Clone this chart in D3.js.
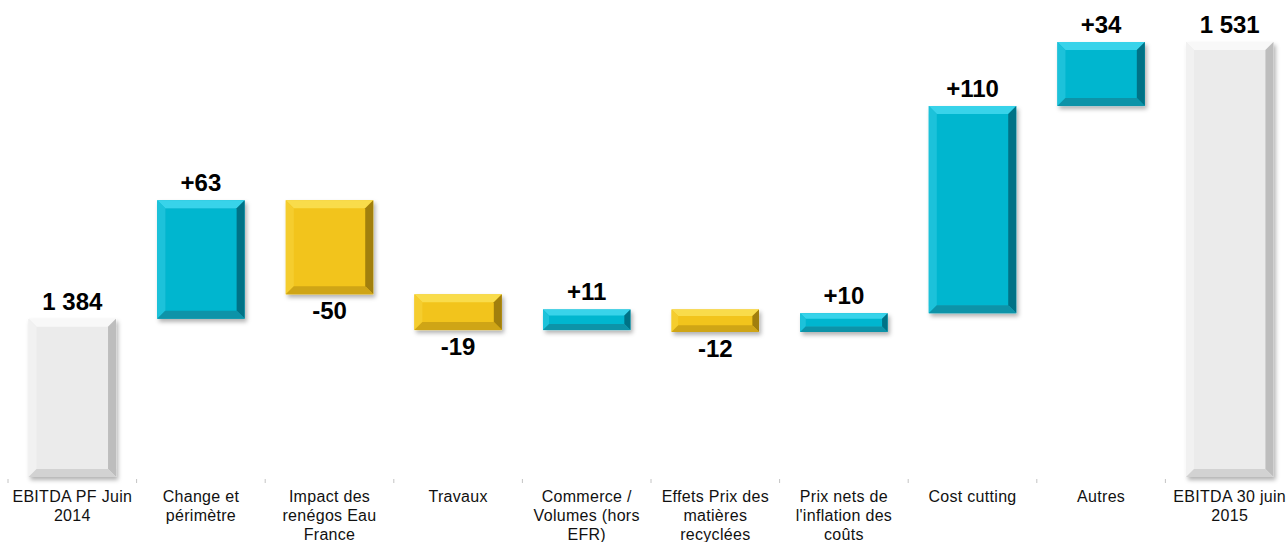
<!DOCTYPE html>
<html>
<head>
<meta charset="utf-8">
<script src="https://cdn.jsdelivr.net/npm/d3@7"></script>
<style>
  body { margin: 0; background: #fff; }
  text { font-family: "Liberation Sans", Arial, sans-serif; }
</style>
</head>
<body>
<div id="chart"></div>
<script>
var categories = [
  ["EBITDA PF Juin", "2014"],
  ["Change et", "périmètre"],
  ["Impact des", "renégos Eau", "France"],
  ["Travaux"],
  ["Commerce /", "Volumes (hors", "EFR)"],
  ["Effets Prix des", "matières", "recyclées"],
  ["Prix nets de", "l'inflation des", "coûts"],
  ["Cost cutting"],
  ["Autres"],
  ["EBITDA 30 juin", "2015"]
];
var values = [1384, 63, -50, -19, 11, -12, 10, 110, 34, 1531];
var kinds  = ["total", "delta", "delta", "delta", "delta", "delta", "delta", "delta", "delta", "total"];
var valueLabels = ["1 384", "+63", "-50", "-19", "+11", "-12", "+10", "+110", "+34", "1 531"];

var W = 1288, H = 542;
var baseY = 477, topY = 42;

var svg = d3.select("#chart").append("svg")
    .attr("width", W).attr("height", H);

var defs = svg.append("defs");
var f = defs.append("filter").attr("id", "shadow")
    .attr("x", "-20%").attr("y", "-20%").attr("width", "140%").attr("height", "160%");
f.append("feDropShadow").attr("dx", 2).attr("dy", 3).attr("stdDeviation", 2)
    .attr("flood-color", "#000").attr("flood-opacity", 0.3);

var x = d3.scaleBand()
    .domain(d3.range(categories.length))
    .range([8, 1294])
    .paddingInner(0.32)
    .paddingOuter(0.16);

var y = d3.scaleLinear()
    .domain([1300, 1531])
    .range([baseY, topY]);

// build waterfall segments
var running = 0;
var bars = values.map(function(v, i) {
  var lo, hi;
  if (kinds[i] == "total") { lo = 1300; hi = v; running = v; }
  else { lo = running; hi = running + v; running = hi; }
  return { i: i, v: v, y0: Math.min(lo, hi), y1: Math.max(lo, hi), kind: kinds[i] };
});

var palette = {
  total: { base: "#ebebeb", top: "#f8f8f8", left: "#f1f1f1", right: "#bdbdbd", bottom: "#d2d2d2" },
  up:    { base: "#06b6cf", top: "#39d3ea", left: "#1cc2da", right: "#067286", bottom: "#0a93a8" },
  down:  { base: "#f2c41c", top: "#f9dc4c", left: "#f5cd2e", right: "#a17f0a", bottom: "#cfa513" }
};

var step = x.step();

// ticks at band boundaries
var tickPos = d3.range(categories.length + 1).map(function(i) { return 8 + i * step; });
svg.selectAll(".tick").data(tickPos).enter().append("line")
    .attr("x1", function(d) { return d; }).attr("x2", function(d) { return d; })
    .attr("y1", baseY + 2).attr("y2", baseY + 6)
    .attr("stroke", "#c4c4c4").attr("stroke-width", 1);

var g = svg.selectAll(".bar").data(bars).enter().append("g")
    .attr("class", "bar")
    .attr("filter", "url(#shadow)");

g.each(function(d) {
  var c = d.kind == "total" ? palette.total : (d.v > 0 ? palette.up : palette.down);
  var x0 = x(d.i), w = x.bandwidth();
  var yt = y(d.y1), yb = y(d.y0), h = yb - yt;
  var b = Math.min(8, h / 3.4);
  var el = d3.select(this);
  el.append("rect").attr("x", x0).attr("y", yt).attr("width", w).attr("height", h).attr("fill", c.base);
  var pts = function(a) { return a.map(function(p) { return p.join(","); }).join(" "); };
  el.append("polygon").attr("fill", c.top)
    .attr("points", pts([[x0, yt], [x0 + w, yt], [x0 + w - b, yt + b], [x0 + b, yt + b]]));
  el.append("polygon").attr("fill", c.left)
    .attr("points", pts([[x0, yt], [x0 + b, yt + b], [x0 + b, yb - b], [x0, yb]]));
  el.append("polygon").attr("fill", c.right)
    .attr("points", pts([[x0 + w, yt], [x0 + w, yb], [x0 + w - b, yb - b], [x0 + w - b, yt + b]]));
  el.append("polygon").attr("fill", c.bottom)
    .attr("points", pts([[x0, yb], [x0 + w, yb], [x0 + w - b, yb - b], [x0 + b, yb - b]]));
});

// value labels
svg.selectAll(".val").data(bars).enter().append("text")
    .attr("class", "val")
    .attr("x", function(d) { return x(d.i) + x.bandwidth() / 2; })
    .attr("y", function(d) {
      if (d.v < 0) return y(d.y0) + 25;
      return y(d.y1) - 9;
    })
    .attr("text-anchor", "middle")
    .attr("font-size", 24)
    .attr("font-weight", "bold")
    .attr("fill", "#000")
    .text(function(d) { return valueLabels[d.i]; });

// category labels
var cat = svg.selectAll(".cat").data(categories).enter().append("text")
    .attr("class", "cat")
    .attr("text-anchor", "middle")
    .attr("font-size", 16)
    .attr("letter-spacing", 0.3)
    .attr("fill", "#111")
    .attr("transform", function(d, i) { return "translate(" + (x(i) + x.bandwidth() / 2) + ",502)"; });

cat.selectAll("tspan").data(function(d) { return d; }).enter().append("tspan")
    .attr("x", 0)
    .attr("dy", function(d, j) { return j == 0 ? 0 : 19; })
    .text(function(d) { return d; });
</script>
</body>
</html>
